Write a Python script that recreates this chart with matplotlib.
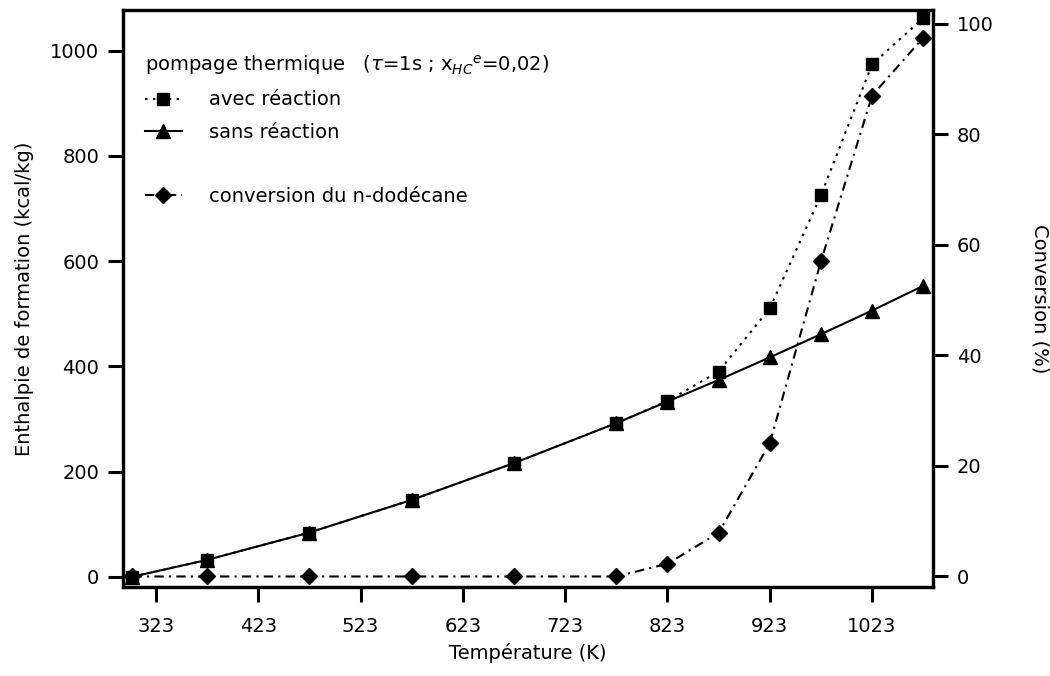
import numpy as np
import matplotlib
matplotlib.use("Agg")
import matplotlib.pyplot as plt
from matplotlib.lines import Line2D

# temperatures (K)
temp = [300, 373, 473, 573, 673, 773, 823, 873, 923, 973, 1023, 1073]
# enthalpie de formation (kcal/kg)
avec_reaction = [0, 32, 84, 146, 216, 292, 334, 390, 510, 725, 974, 1062]
sans_reaction = [0, 32, 84, 146, 216, 292, 333, 374, 417, 461, 506, 553]
# conversion du n-dodecane (%)
conversion = [0, 0, 0, 0, 0, 0, 2.3, 7.9, 24.1, 57.0, 87.0, 97.5]

xticks = [323, 423, 523, 623, 723, 823, 923, 1023]
yticks_left = [0, 200, 400, 600, 800, 1000]
yticks_right = [0, 20, 40, 60, 80, 100]

plt.rcParams['font.family'] = ['DejaVu Sans']
plt.rcParams['mathtext.fontset'] = 'dejavusans'

fig = plt.figure(figsize=(10.5, 6.76), dpi=100)
ax = fig.add_axes([0.1171, 0.1321, 0.7715, 0.8531])
ax2 = ax.twinx()

dot = (0, (1.2, 2.6))
dashdot = (0, (4.5, 2.5, 1, 2.5))

ax.plot(temp, sans_reaction, color='black', lw=1.5, ls='-',
        marker='^', ms=10, zorder=3)
ax.plot(temp, avec_reaction, color='black', lw=1.5, ls=dot,
        marker='s', ms=9, zorder=4)
ax2.plot(temp, conversion, color='black', lw=1.5, ls=dashdot,
         marker='D', ms=8, zorder=3)

ax.set_xlim(290.7, 1082.6)
ax.set_ylim(-19.0, 1077.4)
ax2.set_ylim(-1.85, 102.5)

ax.set_xticks(xticks)
ax.set_yticks(yticks_left)
ax2.set_yticks(yticks_right)

for a in (ax, ax2):
    for s in a.spines.values():
        s.set_linewidth(2.3)
    a.tick_params(axis='both', direction='out', length=11, width=2.2,
                  labelsize=14)
ax.tick_params(axis='x', pad=11)
ax.tick_params(axis='y', pad=6)
ax2.tick_params(axis='y', pad=6)

ax.set_xlabel('Température (K)', fontsize=14, labelpad=5)
ax.set_ylabel('Enthalpie de formation (kcal/kg)', fontsize=14, labelpad=12)
ax2.set_ylabel('Conversion (%)', fontsize=14, rotation=270, labelpad=40)

handles = [
    Line2D([], [], color='black', lw=1.5, ls=dot, marker='s', ms=9),
    Line2D([], [], color='black', lw=1.5, ls='-', marker='^', ms=10),
    Line2D([], [], color='none'),
    Line2D([], [], color='black', lw=1.5, ls=dashdot, marker='D', ms=8),
]
labels = ['avec réaction', 'sans réaction', '', 'conversion du n-dodécane']
leg = ax.legend(handles, labels, loc='upper left',
                bbox_to_anchor=(0.027, 0.925), frameon=False, fontsize=14,
                title=r'pompage thermique   ($\tau$=1s ; x$_{HC}$$^{e}$=0,02)',
                title_fontsize=14, alignment='left', numpoints=1,
                handlelength=1.9, handletextpad=1.4, labelspacing=0.68,
                borderpad=0, borderaxespad=0)

fig.savefig('out.png', dpi=100)
